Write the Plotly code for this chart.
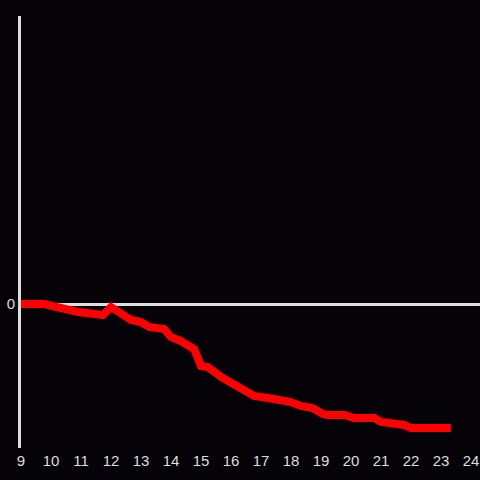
import plotly.graph_objects as go

hours = [9.0, 9.77, 10.9, 11.2, 11.73, 12.0, 12.67, 13.0, 13.27, 13.77, 14.0, 14.33,
         14.77, 15.0, 15.23, 15.67, 16.33, 16.77, 17.43, 18.0, 18.33, 18.72, 19.06,
         19.22, 19.78, 20.1, 20.78, 21.0, 21.78, 22.0, 23.33]
values = [0.0, 0.0, -0.8, -0.85, -1.1, -0.3, -1.6, -1.8, -2.3, -2.5, -3.3, -3.7,
          -4.5, -6.2, -6.3, -7.3, -8.5, -9.2, -9.5, -9.8, -10.2, -10.4, -11.0,
          -11.1, -11.1, -11.4, -11.4, -11.8, -12.1, -12.4, -12.4]
xticks = list(range(9, 25))

fig = go.Figure(go.Scatter(x=hours, y=values, mode="lines",
                           line=dict(color="#ff0000", width=8),
                           hoverinfo="skip"))

fig.update_layout(
    width=480, height=480,
    margin=dict(l=21, r=0, t=16, b=32),
    paper_bgcolor="#050307", plot_bgcolor="#050307",
    showlegend=False,
    font=dict(color="#dddddd", size=15, family="Liberation Sans"),
)
fig.update_xaxes(range=[9, 24.3], tickvals=xticks, ticktext=[str(t) for t in xticks],
                 showgrid=False, zeroline=False, showline=False, ticks="",
                 ticklabelstandoff=2)
fig.update_yaxes(range=[-14.4, 28.8], tickvals=[0], ticktext=["0"],
                 showgrid=False, zeroline=True, zerolinecolor="#dddddd", zerolinewidth=3,
                 showline=True, linecolor="#dddddd", linewidth=3, ticks="")

fig.write_html("out.html", config={"displayModeBar": False},
               post_script="document.body.style.margin='0';document.body.style.background='#050307';")
